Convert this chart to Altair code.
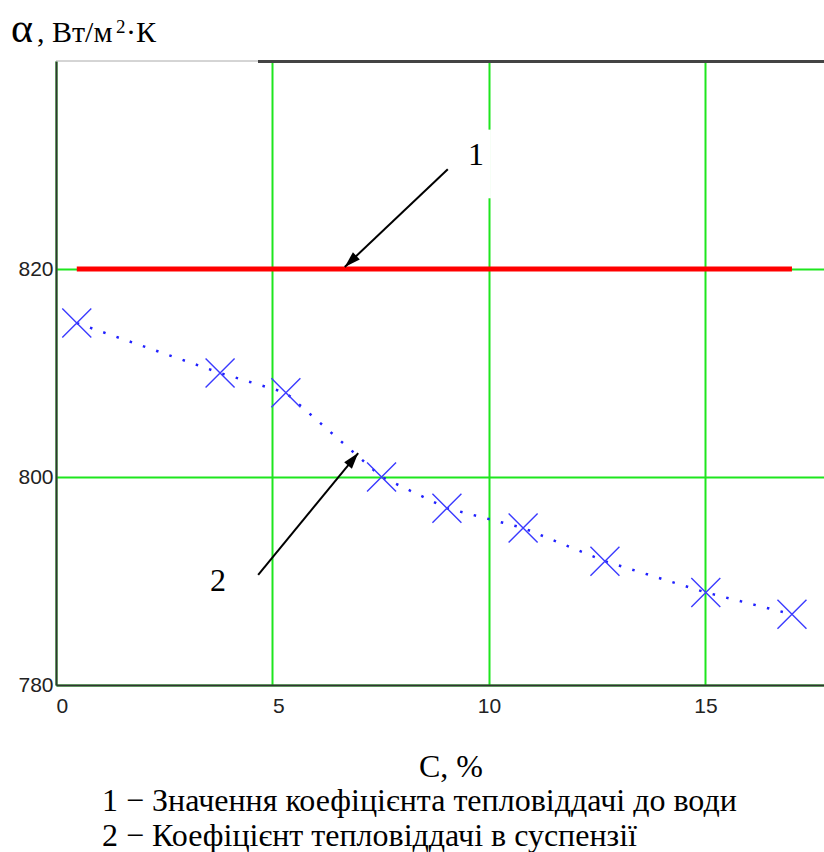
import altair as alt
import pandas as pd

# ---- data ----
conc = [0.48, 3.79, 5.31, 7.52, 9.03, 10.79, 12.68, 15.01, 17.0]
alpha_susp = [814.8, 810.0, 808.1, 800.0, 797.0, 795.1, 791.9, 788.9, 786.8]
alpha_water = [820, 820, 820, 820, 820, 820, 820, 820, 820]
x_ticks = [0, 5, 10, 15]
y_ticks = [780, 800, 820]
x_domain = [0, 17.74]
y_domain = [780, 840]

# annotation arrows (start -> tip) and their labels
arrow_x = [9.05, 4.67]
arrow_y = [829.6, 790.6]
arrow_tip_x = [6.67, 6.98]
arrow_tip_y = [820.2, 802.3]
arrow_angle = [226.4, 39.3]
label_text = ["1", "2"]
label_x = [9.70, 3.74]
label_y = [830.0, 789.0]

title_alpha = "α"
title_units = ", Вт/м"
title_sup = "2"
title_tail = "·К"
x_title = "C, %"
legend_lines = ["1 − Значення коефіцієнта тепловіддачі до води",
                "2 − Коефіцієнт тепловіддачі в суспензії"]

W, H = 768, 624
PL, PT = 56, 61

df = pd.DataFrame({"c": conc, "a": alpha_susp, "w": alpha_water})
arr = pd.DataFrame({"x": arrow_x, "y": arrow_y, "x2": arrow_tip_x,
                    "y2": arrow_tip_y, "ang": arrow_angle})
lab = pd.DataFrame({"t": label_text, "x": label_x, "y": label_y})
one = pd.DataFrame({"k": [0]})

xs = alt.Scale(domain=x_domain, nice=False, zero=False)
ys = alt.Scale(domain=y_domain, nice=False, zero=False)

SERIF = "Liberation Serif"
GRID = "#1ee61e"

x_axis = alt.Axis(values=x_ticks, title=None, grid=True, gridColor=GRID,
                  gridWidth=2, ticks=False, domainColor="#333333",
                  domainWidth=2, labelFont="Liberation Sans", labelFontSize=21,
                  labelColor="#222222", labelPadding=10,
                  labelAlign={"condition": {"test": "datum.value < 10", "value": "left"},
                              "value": "center"},
                  labelFlush=False)
y_axis = alt.Axis(values=y_ticks, title=None, grid=True, gridColor=GRID,
                  gridWidth=2, ticks=False, domainColor="#333333",
                  domainWidth=2, labelFont="Liberation Sans", labelFontSize=21,
                  labelColor="#222222", labelPadding=3)

base = alt.Chart(df)

water = base.mark_line(color="#ff0000", strokeWidth=5).encode(
    x=alt.X("c:Q", scale=xs, axis=x_axis),
    y=alt.Y("w:Q", scale=ys, axis=y_axis),
)

susp_line = base.mark_line(color="#2020ff", strokeWidth=2.5,
                           strokeDash=[2.5, 11.5]).encode(
    x=alt.X("c:Q", scale=xs), y=alt.Y("a:Q", scale=ys))

susp_pts = base.mark_point(shape="M-1,-1L1,1M-1,1L1,-1", size=841,
                           filled=False, color="#3a3aff", strokeWidth=1.4,
                           opacity=1).encode(
    x=alt.X("c:Q", scale=xs), y=alt.Y("a:Q", scale=ys))

# small gap in the x=10 grid line behind label "1"
gap = alt.Chart(pd.DataFrame({"x": [10], "y": [826.8], "y2": [833.4]})).mark_rule(
    color="white", strokeWidth=4).encode(
    x=alt.X("x:Q", scale=xs), y=alt.Y("y:Q", scale=ys), y2="y2:Q")

arrow_lines = alt.Chart(arr).mark_rule(color="black", strokeWidth=2).encode(
    x=alt.X("x:Q", scale=xs), y=alt.Y("y:Q", scale=ys), x2="x2:Q", y2="y2:Q")

arrow_heads = alt.Chart(arr).mark_point(
    shape="M0,0L0.5,1.6L-0.5,1.6Z", size=400, filled=True, color="black",
    opacity=1).encode(
    x=alt.X("x2:Q", scale=xs), y=alt.Y("y2:Q", scale=ys),
    angle=alt.Angle("ang:Q", scale=None))

labels = alt.Chart(lab).mark_text(font=SERIF, fontSize=32, color="black",
                                  align="center", baseline="alphabetic").encode(
    x=alt.X("x:Q", scale=xs), y=alt.Y("y:Q", scale=ys), text="t:N")

# frame top edge
top_thin = alt.Chart(one).mark_rule(color="#aaaaaa", strokeWidth=1).encode(
    x=alt.value(0), x2=alt.value(202), y=alt.value(0))
top_dark = alt.Chart(one).mark_rule(color="#444444", strokeWidth=3).encode(
    x=alt.value(202), x2=alt.value(W), y=alt.value(0.5))

def txt(s, x, y, size, align="left", font=SERIF):
    return alt.Chart(one).mark_text(text=s, font=font, fontSize=size,
                                    color="black", align=align,
                                    baseline="alphabetic").encode(
        x=alt.value(x - PL), y=alt.value(y - PT))

t_alpha = txt(title_alpha, 11, 42, 42)
t_units = txt(title_units, 37, 42, 30)
t_sup = txt(title_sup, 116, 33, 19)
t_tail = txt(title_tail, 126, 42, 30)
t_x = txt(x_title, 451, 777, 32, align="center")
t_l1 = txt(legend_lines[0], 102, 811, 32)
t_l2 = txt(legend_lines[1], 102, 846, 32)

chart = alt.layer(
    water, gap, susp_line, susp_pts, arrow_lines, arrow_heads, labels,
    top_thin, top_dark, t_alpha, t_units, t_sup, t_tail, t_x, t_l1, t_l2
).properties(
    width=W, height=H,
    padding={"left": PL, "top": PT, "right": 0, "bottom": 852 - PT - H},
    autosize=alt.AutoSizeParams(type="none"),
    background="white",
).configure_view(strokeWidth=0)

chart.save("out.html", embed_options={"renderer": "svg", "actions": False})
